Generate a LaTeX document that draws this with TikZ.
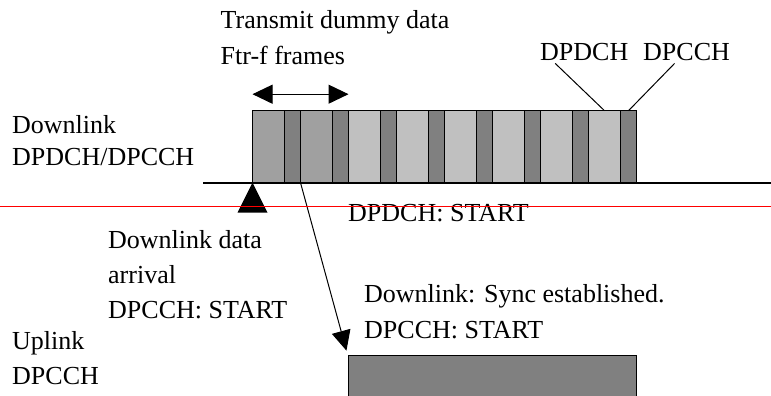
\documentclass[tikz,border=0pt]{standalone}
\usepackage{fontspec}
\setmainfont{Liberation Serif}
\usepackage{tikz}
\usetikzlibrary{arrows.meta,calc,positioning}
\definecolor{frmid}{RGB}{160,160,160}
\definecolor{frlight}{RGB}{192,192,192}
\definecolor{frdark}{RGB}{128,128,128}
\newcommand{\lblsize}{\fontsize{26}{30}\selectfont}

\begin{document}
\begin{tikzpicture}[
    x=1pt, y=-1pt,
    lbl/.style={anchor=base west, inner sep=0, font=\lblsize},
    frbox/.style={draw, line width=1pt, anchor=north west, inner sep=0, outer sep=0, minimum height=72pt},
    frwide/.style={frbox, minimum width=32pt},
    frnarrow/.style={frbox, minimum width=16pt, fill=frdark},
    bigtip/.style={-{Triangle[length=20pt, width=19pt]}},
    dbltip/.style={{Triangle[length=20pt, width=19pt]}-{Triangle[length=20pt, width=19pt]}}]
\path[use as bounding box] (0,0) rectangle (771,396);
\clip (0,0) rectangle (771,396);

\foreach \k in {0,...,7}{
  \ifnum\k<2 \def\fc{frmid}\else\def\fc{frlight}\fi
  \node[frwide, fill=\fc] (b\k) at (252.5+48*\k, 110.7) {};
  \node[frnarrow] (s\k) at (b\k.north east) {};
}

\coordinate (axl) at (203,183);
\coordinate (axr) at (771,183);
\draw[line width=1.4pt] (axl) -- (axr);

\coordinate (fl) at ([yshift=16.5pt]b0.north west);
\coordinate (fr) at ([yshift=16.5pt]s1.north east);
\draw[dbltip, line width=1pt] (fl) -- (fr);
\fill (b0.south west) -- ++(-15,30) -- ++(30,0) -- cycle;

\node[lbl] (tx1) at (220.5,28.5) {Transmit dummy data};
\node[lbl] (tx2) at (220.5,65) {Ftr-f frames};
\node[lbl, inner sep=2pt] (pdch) at (538,61) {DPDCH};
\node[lbl, inner sep=2pt] (pcch) at (641,61) {DPCCH};
\draw[line width=1pt] ([xshift=-29pt]pdch.south) -- (b7.north);
\draw[line width=1pt] ([xshift=-12pt]pcch.south) -- (s7.north);

\node[lbl] (dl1) at (12,133.5) {Downlink};
\node[lbl] (dl2) at (12,165) {DPDCH/DPCCH};
\node[lbl] (pdst) at (348,221.5) {DPDCH: START};
\node[lbl] (ar1) at (108,248) {Downlink data};
\node[lbl] (ar2) at (108,283) {arrival};
\node[lbl] (ar3) at (108,318) {DPCCH: START};
\node[lbl] (sy1) at (364,302) {Downlink: Sync established.};
\node[lbl] (sy2) at (364,338) {DPCCH: START};
\node[lbl] (ul1) at (12,349) {Uplink};
\node[lbl] (ul2) at (12,384) {DPCCH};

\node[draw, line width=1pt, fill=frdark, anchor=north west, minimum width=288pt, minimum height=60pt, inner sep=0] (ulbox) at (347.5,354.5) {};
\draw[bigtip, line width=1pt, shorten >=4pt] (s0.south east) -- (ulbox.north west);

\coordinate (rl) at (0,206.7);
\coordinate (rr) at (771,206.7);
\draw[red, line width=1.5pt] (rl) -- (rr);
\end{tikzpicture}
\end{document}
